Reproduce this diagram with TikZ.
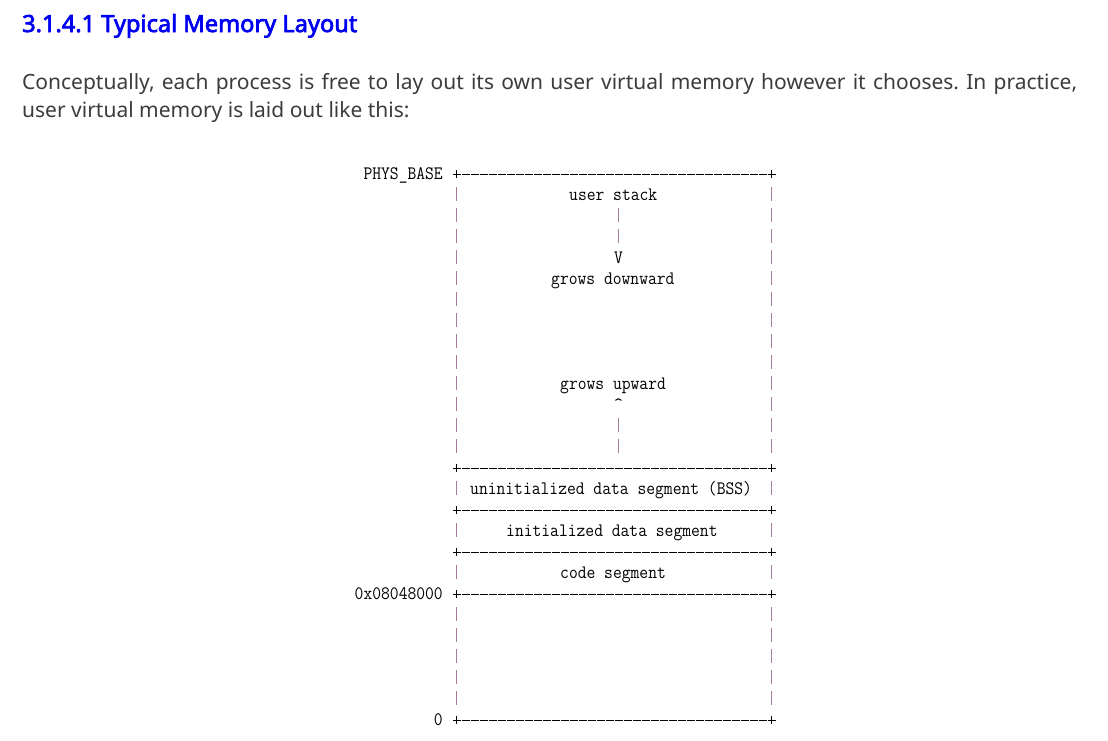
\documentclass[tikz,border=0pt]{standalone}
\usepackage{fontspec}
\usepackage{graphicx}
\setmainfont{Noto Sans}[AutoFakeBold=3]
\frenchspacing
\definecolor{headblue}{RGB}{0,0,240}
\definecolor{bodygray}{RGB}{60,60,60}
\definecolor{barcol}{RGB}{165,125,155}
\newcommand{\asc}[1]{\scalebox{0.9}[1]{\ttfamily\fontsize{19}{21}\selectfont #1}}
\begin{document}
\begin{tikzpicture}[x=1pt,y=-1pt,
  txt/.style={inner sep=0pt, anchor=base west},
  lab/.style={inner sep=0pt, anchor=base east},
  hline/.style={line width=1pt, dash pattern=on 8pt off 1pt},
  tick/.style={line width=1pt},
  vbar/.style={draw=barcol, line width=1pt}]
\fill[white] (0,0) rectangle (1108,740);
\useasboundingbox (0,0) rectangle (1108,740);
% heading and paragraph
\node[txt, text=headblue, font=\bfseries\fontsize{23.6}{28}\selectfont] (head) at (22,32) {3.1.4.1 Typical Memory Layout};
\node[txt, text=bodygray, font=\fontsize{21}{28}\selectfont] (p1) at (22,89) {\makebox[1055pt][s]{Conceptually, each process is free to lay out its own user virtual memory however it chooses. In practice,}};
\node[txt, text=bodygray, font=\fontsize{21}{28}\selectfont] (p2) at (22,117) {user virtual memory is laid out like this:};
% horizontal borders
\foreach \k in {0,14,16,18,20,26}{
  \pgfmathsetmacro\yy{174+21*\k}
  \pgfmathsetmacro\ya{\yy-4}
  \pgfmathsetmacro\yb{\yy+4}
  \draw[hline] (452.5,\yy) -- (775.5,\yy);
  \draw[tick] (456.5,\ya) -- (456.5,\yb);
  \draw[tick] (771.5,\ya) -- (771.5,\yb);
}
% side bars
\foreach \k in {1,...,13,15,17,19,21,22,23,24,25}{
  \pgfmathsetmacro\ya{174+21*\k-8}
  \pgfmathsetmacro\yb{174+21*\k+6}
  \draw[vbar] (456.5,\ya) -- (456.5,\yb);
  \draw[vbar] (771.5,\ya) -- (771.5,\yb);
}
% centre bars
\foreach \k in {2,3,12,13}{
  \pgfmathsetmacro\ya{174+21*\k-8}
  \pgfmathsetmacro\yb{174+21*\k+6}
  \draw[vbar] (618.5,\ya) -- (618.5,\yb);
}
% labels left
\node[lab] (phys) at (443,179.5) {\asc{PHYS\_BASE}};
\node[lab] (code) at (443,599.5) {\asc{0x08048000}};
\node[lab] (zero) at (443,725.5) {\asc{0}};
% texts inside
\node[txt] (ustack) at (569,200.5) {\asc{user stack}};
\node[txt] (vv) at (614,263.5) {\asc{V}};
\node[txt] (gdown) at (551,284.5) {\asc{grows downward}};
\node[txt] (gup) at (560,389.5) {\asc{grows upward}};
\node[txt] (caret) at (614,410.5) {\asc{\char`\^}};
\node[txt] (bss) at (470,494.5) {\asc{uninitialized data segment (BSS)}};
\node[txt] (init) at (506,536.5) {\asc{initialized data segment}};
\node[txt] (cseg) at (560,578.5) {\asc{code segment}};
\end{tikzpicture}
\end{document}
